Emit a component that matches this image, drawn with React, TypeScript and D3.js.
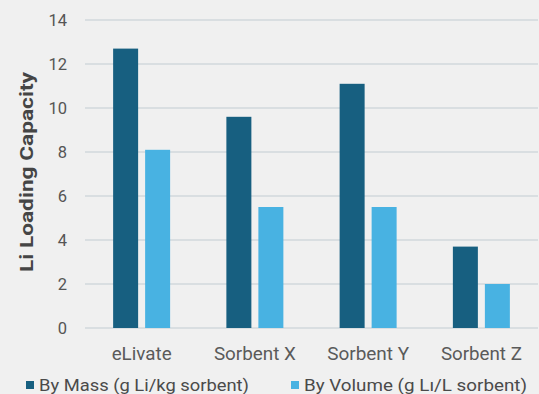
import React from "react";
import * as d3 from "d3";

const categories = ["eLivate", "Sorbent X", "Sorbent Y", "Sorbent Z"];
const byMass = [12.7, 9.6, 11.1, 3.7];
const byVolume = [8.1, 5.5, 5.5, 2.0];
const seriesNames = ["By Mass (g Li/kg sorbent)", "By Volume (g Lı/L sorbent)"];
const yTicks = [0, 2, 4, 6, 8, 10, 12, 14];

const W = 539, H = 394;
const left = 85, right = 538, top = 20, bottom = 328;
const colors = ["#175f80", "#48b2e2"];
const font = "Roboto, 'DejaVu Sans', sans-serif";

export default function App() {
  const x = d3.scaleBand<string>().domain(categories).range([left, right]).paddingInner(0).paddingOuter(0);
  const y = d3.scaleLinear().domain([0, 14]).range([bottom, top]);
  const bw = x.bandwidth();
  const barW = 25, gap = 7;
  const series = [byMass, byVolume];
  const catLen = [60, 82, 82, 81];
  const legX = [26, 291];
  const legLen = [210, 223];
  return (
    <svg width={W} height={H} style={{ position: "absolute", left: 0, top: 0 }}>
      <rect x={0} y={0} width={W} height={H} fill="#f0f0f0" />
      {yTicks.map((t) => (
        <g key={t}>
          <line x1={left} x2={right} y1={y(t)} y2={y(t)} stroke="#d2d8dc" strokeWidth={1.5} />
          <text x={67} y={y(t)} dy="0.36em" textAnchor="end" fontSize={16.5} fill="#555" fontFamily={font}>{t}</text>
        </g>
      ))}
      {categories.map((c, i) => {
        const x0 = (x(c) as number) + (bw - (barW * 2 + gap)) / 2;
        return (
          <g key={c}>
            {series.map((s, j) => (
              <rect key={j} x={x0 + j * (barW + gap)} y={y(s[i])} width={barW} height={y(0) - y(s[i])} fill={colors[j]} />
            ))}
            <text x={(x(c) as number) + bw / 2} y={360} textAnchor="middle" fontSize={17.5} fill="#5a5a5a" fontFamily={font}
              textLength={catLen[i]} lengthAdjust="spacingAndGlyphs">{c}</text>
          </g>
        );
      })}
      <text transform={`translate(33,${172}) rotate(-90)`} textAnchor="middle" fontSize={18} fontWeight="bold" fill="#454545" fontFamily={font}
        textLength={200} lengthAdjust="spacingAndGlyphs">Li Loading Capacity</text>
      {seriesNames.map((n, j) => {
        const lx = legX[j];
        return (
          <g key={n}>
            <rect x={lx} y={381} width={8} height={8} fill={colors[j]} />
            <text x={lx + 13} y={390.5} fontSize={16.5} fill="#4a4a4a" fontFamily={font}
              textLength={legLen[j]} lengthAdjust="spacingAndGlyphs">{n}</text>
          </g>
        );
      })}
    </svg>
  );
}
